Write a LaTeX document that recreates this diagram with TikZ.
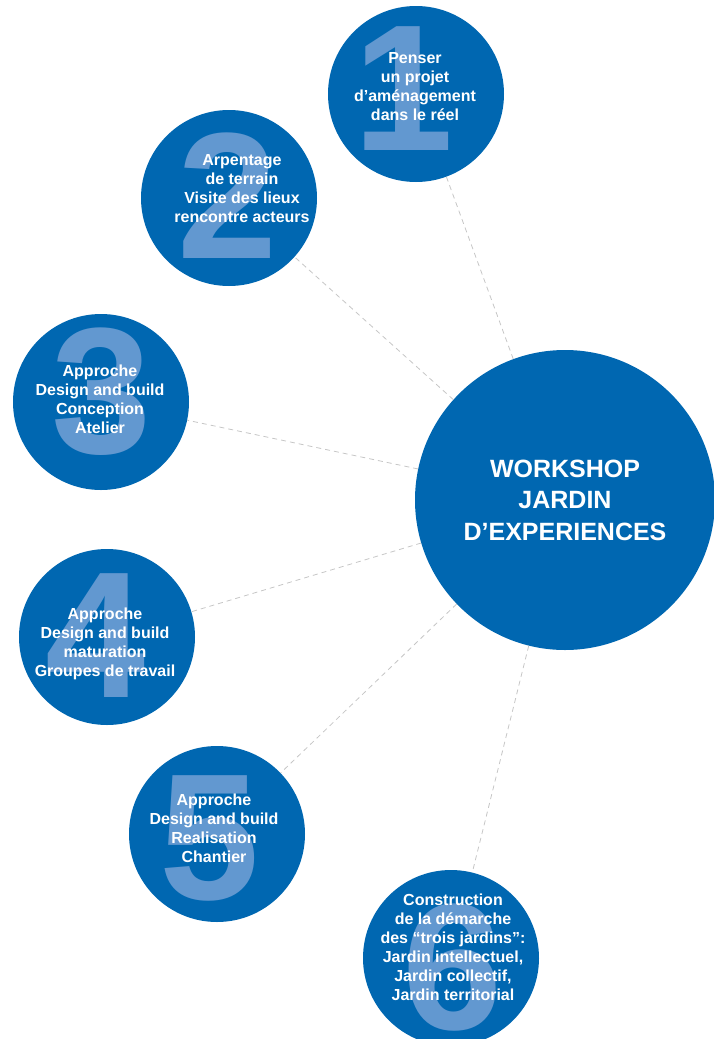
\documentclass[tikz,border=0pt]{standalone}
\usepackage{fontspec}
\setmainfont{Liberation Sans}
\usepackage{xcolor}
\usepackage{tikz}
\usetikzlibrary{positioning}
\definecolor{wsblue}{RGB}{0,103,177}
\definecolor{wsdigit}{RGB}{98,152,208}

\begin{document}
\begin{tikzpicture}[
    x=1pt, y=-1pt, % pixel-like coordinates, y going down
    every node/.style={align=center, text=white, inner sep=0pt},
    bubble/.style={circle, fill=wsblue, minimum size=176pt},
    hub/.style={circle, fill=wsblue, minimum size=300pt, font=\bfseries\fontsize{25}{31.5}\selectfont},
    bignum/.style={text=wsdigit, font=\bfseries\fontsize{180}{180}\selectfont},
    steptext/.style={font=\bfseries\fontsize{16}{19}\selectfont},
    link/.style={draw=gray!45, line width=0.8pt, dash pattern=on 5pt off 4pt}
]
\useasboundingbox (0,0) rectangle (714,1039);

% Circles
\node[hub] (hub) at (565,500) {WORKSHOP\\JARDIN\\D’EXPERIENCES};
\node[bubble] (s1) at (416,94) {};
\node[bubble] (s2) at (229,198) {};
\node[bubble] (s3) at (101,402) {};
\node[bubble] (s4) at (107,637) {};
\node[bubble] (s5) at (217,834) {};
\node[bubble] (s6) at (451,958) {};

% Big numbers
\node[bignum] (n1) at (404,89) {1};
\node[bignum] (n2) at (228,196) {2};
\node[bignum] (n3) at (102,392) {3};
\node[bignum] (n4) at (96,636) {4};
\node[bignum] (n5) at (210,838) {5};
\node[bignum] (n6) at (453,968) {6};

% Texts
\node[steptext] (t1) at (415,87) {Penser\\un projet\\d’aménagement\\dans le réel};
\node[steptext] (t2) at (242,189) {Arpentage\\de terrain\\Visite des lieux\\rencontre acteurs};
\node[steptext] (t3) at (100,399) {Approche\\Design and build\\Conception\\Atelier};
\node[steptext] (t4) at (105,644) {Approche\\Design and build\\maturation\\Groupes de travail};
\node[steptext] (t5) at (214,828) {Approche\\Design and build\\Realisation\\Chantier};
\node[steptext] (t6) at (453,947) {Construction\\de la démarche\\des “trois jardins”:\\Jardin intellectuel,\\Jardin collectif,\\Jardin territorial};

% Edges
\draw[link] (hub) -- (s1);
\draw[link] (hub) -- (s2);
\draw[link] (hub) -- (s3);
\draw[link] (hub) -- (s4);
\draw[link] (hub) -- (s5);
\draw[link] (hub) -- (s6);

\end{tikzpicture}
\end{document}
